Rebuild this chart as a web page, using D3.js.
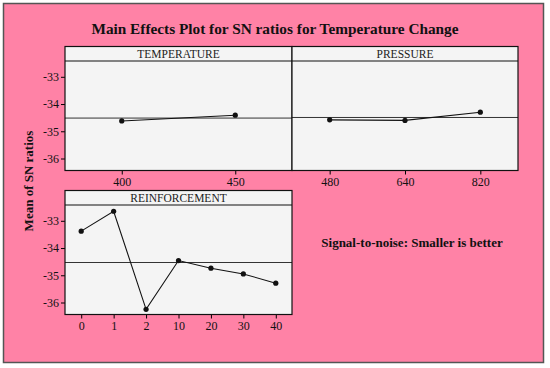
<!DOCTYPE html>
<html>
<head>
<meta charset="utf-8">
<script src="https://cdn.jsdelivr.net/npm/d3@7"></script>
<style>
  body { margin: 0; background: #fff; }
  text { font-family: "Liberation Serif", "DejaVu Serif", serif; fill: #111; }
</style>
</head>
<body>
<div id="chart"></div>
<script>
var temperatureLevels = ["400", "450"];
var temperatureSN = [-34.62, -34.41];

var pressureLevels = ["480", "640", "820"];
var pressureSN = [-34.58, -34.60, -34.30];

var reinforcementLevels = ["0", "1", "2", "10", "20", "30", "40"];
var reinforcementSN = [-33.38, -32.65, -36.25, -34.46, -34.74, -34.95, -35.29];

var yTicks = [-33, -34, -35, -36];

var width = 550, height = 368;

var svg = d3.select("#chart").append("svg")
    .attr("width", width)
    .attr("height", height);

// pink frame
svg.append("rect")
    .attr("x", 3.5).attr("y", 3.5)
    .attr("width", 540).attr("height", 359)
    .attr("fill", "#ff82a6")
    .attr("stroke", "#555")
    .attr("stroke-width", 1.5);

svg.append("text")
    .attr("x", 275).attr("y", 34)
    .attr("text-anchor", "middle")
    .style("font-size", "15.3px")
    .style("font-weight", "bold")
    .text("Main Effects Plot for SN ratios for Temperature Change");

svg.append("text")
    .attr("transform", "translate(33,181) rotate(-90)")
    .attr("text-anchor", "middle")
    .style("font-size", "13px")
    .style("font-weight", "bold")
    .text("Mean of SN ratios");

svg.append("text")
    .attr("x", 412).attr("y", 247)
    .attr("text-anchor", "middle")
    .style("font-size", "13px")
    .style("font-weight", "bold")
    .text("Signal-to-noise: Smaller is better");

var yDomain = [-36.44, -32.42];

function panel(x0, x1, top, title, levels, values, showY) {
  var stripH = 14.5;
  var plotTop = top + stripH;
  var plotBottom = plotTop + 109.5;
  var g = svg.append("g");

  var xScale = d3.scalePoint()
      .domain(levels)
      .range([x0, x1])
      .padding(0.5);

  var yScale = d3.scaleLinear()
      .domain(yDomain)
      .range([plotBottom, plotTop]);

  g.append("rect")
      .attr("x", x0).attr("y", top)
      .attr("width", x1 - x0).attr("height", plotBottom - top)
      .attr("fill", "#f4f4f4");

  g.append("line")
      .attr("x1", x0).attr("x2", x1)
      .attr("y1", plotTop).attr("y2", plotTop)
      .attr("stroke", "#111").attr("stroke-width", 1.2);

  g.append("text")
      .attr("x", (x0 + x1) / 2).attr("y", top + 11.5)
      .attr("text-anchor", "middle")
      .style("font-size", "11.5px")
      .style("fill", "#222")
      .text(title);

  // mean reference line
  var mean = d3.mean(values);
  g.append("line")
      .attr("x1", x0).attr("x2", x1)
      .attr("y1", yScale(mean)).attr("y2", yScale(mean))
      .attr("stroke", "#333").attr("stroke-width", 1);

  var pts = levels.map((l, i) => [xScale(l), yScale(values[i])]);
  g.append("path")
      .attr("d", d3.line()(pts))
      .attr("fill", "none")
      .attr("stroke", "#111")
      .attr("stroke-width", 1.1);

  g.selectAll(".pt")
      .data(pts)
      .enter()
      .append("circle")
      .attr("cx", d => d[0])
      .attr("cy", d => d[1])
      .attr("r", 2.6)
      .attr("fill", "#111");

  var xAxis = g.append("g")
      .attr("transform", `translate(0,${plotBottom})`)
      .call(d3.axisBottom(xScale).tickSize(4).tickPadding(3));
  xAxis.select(".domain").remove();
  xAxis.selectAll("text")
      .style("font-size", "12px")
      .style("font-family", "Liberation Serif, serif")
      .attr("fill", "#111");

  if (showY) {
    var yAxis = g.append("g")
        .attr("transform", `translate(${x0},0)`)
        .call(d3.axisLeft(yScale).tickValues(yTicks).tickSize(4).tickPadding(2)
          .tickFormat(d => String(d)));
    yAxis.select(".domain").remove();
    yAxis.selectAll("text")
        .style("font-size", "12px")
        .style("font-family", "Liberation Serif, serif")
        .attr("fill", "#111");
  }

  g.append("rect")
      .attr("x", x0).attr("y", top)
      .attr("width", x1 - x0).attr("height", plotBottom - top)
      .attr("fill", "none")
      .attr("stroke", "#111")
      .attr("stroke-width", 1.2);
}

panel(65, 292, 46.5, "TEMPERATURE", temperatureLevels, temperatureSN, true);
panel(292, 518, 46.5, "PRESSURE", pressureLevels, pressureSN, false);
panel(65, 292, 190.5, "REINFORCEMENT", reinforcementLevels, reinforcementSN, true);
</script>
</body>
</html>
